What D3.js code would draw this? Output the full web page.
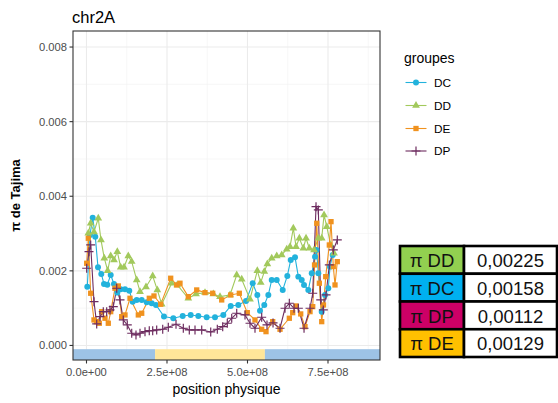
<!DOCTYPE html>
<html><head><meta charset="utf-8">
<script src="https://cdn.jsdelivr.net/npm/d3@7"></script>
<style>body{margin:0;background:#fff}svg{display:block}</style>
</head><body>
<svg id="c" width="558" height="403"></svg>
<script>
// ---- data (positions in Mb, pi values) ----
const groups = ["DC","DD","DE","DP"];
const posDC = [2.5,10.9,19.3,27.3,35.7,46.0,54.4,64.6,75.2,85.4,95.7,106.2,119.6,132.9,143.5,155.9,171.5,187.0,202.5,215.9,240.7,269.6,298.8,323.6,347.3,373.3,399.1,424.9,447.9,471.5,495.4,516.2,530.5,538.9,552.2,564.7,575.2,590.8,609.4,623.7,634.3,647.6,657.9,668.4,675.6,688.9,699.5,709.7,714.4,720.0,730.5,740.8,751.0,756.3,764.7];
const piDC = [0.001576,0.002962,0.003426,0.002917,0.002097,0.001917,0.001649,0.001630,0.001890,0.001649,0.001416,0.001507,0.001507,0.001469,0.001174,0.001220,0.001220,0.001158,0.001131,0.001086,0.000777,0.000729,0.000791,0.000818,0.000791,0.000756,0.000756,0.000818,0.001059,0.001086,0.001193,0.001668,0.001354,0.000933,0.001086,0.001354,0.001756,0.001756,0.001488,0.001863,0.002292,0.002365,0.001845,0.001756,0.001622,0.001488,0.001936,0.002381,0.002560,0.001936,0.000906,0.001354,0.001534,0.002113,0.002426];
const posDD = [5.6,13.0,23.3,36.6,45.0,55.3,65.8,75.2,85.4,95.7,106.2,116.5,129.8,140.4,155.9,166.2,184.8,205.6,219.9,233.6,264.6,282.0,316.2,340.1,368.1,393.8,414.6,445.7,466.5,482.0,507.8,530.5,541.1,552.2,561.6,575.2,590.8,606.3,621.8,632.1,642.3,650.7,661.0,673.4,681.8,692.0,706.6,720.0,730.5,737.7,746.1,758.5,768.7];
const piDD = [0.003008,0.003276,0.003043,0.003410,0.002828,0.002338,0.002005,0.002399,0.002292,0.002515,0.002097,0.002097,0.002399,0.002247,0.001756,0.001442,0.001568,0.001863,0.001488,0.001105,0.001668,0.001622,0.001265,0.001381,0.001416,0.001381,0.001308,0.001354,0.001890,0.001775,0.001239,0.002005,0.001684,0.001979,0.002185,0.002338,0.002399,0.002426,0.002579,0.002649,0.003142,0.002649,0.002874,0.002606,0.002874,0.002606,0.002560,0.002874,0.002874,0.003499,0.003185,0.002694,0.002472];
const posDE = [0.6,5.6,13.0,23.3,31.7,39.8,47.2,57.5,67.7,75.2,88.5,98.8,109.3,119.6,135.1,160.9,171.5,195.0,209.6,230.5,261.5,280.2,290.4,316.2,342.3,368.1,392.0,419.9,447.9,474.6,499.4,523.3,544.1,557.5,578.3,601.0,629.9,640.4,650.7,665.3,678.6,694.2,702.6,708.2,715.0,723.1,730.5,736.1,742.9,754.1,759.4,766.5,771.8,778.9];
const piDE = [0.002204,0.002874,0.001399,0.000684,0.000638,0.000595,0.000906,0.000729,0.000595,0.000906,0.001534,0.001595,0.000772,0.000818,0.001265,0.000818,0.000863,0.001265,0.001327,0.001105,0.001802,0.001622,0.001668,0.001308,0.001488,0.001416,0.001399,0.001220,0.001354,0.001399,0.000879,0.000684,0.000434,0.000370,0.000638,0.000434,0.000729,0.000879,0.001059,0.000845,0.000504,0.000906,0.001040,0.002158,0.003276,0.001668,0.000638,0.001086,0.001845,0.002694,0.003319,0.002113,0.001622,0.002247];
const posDP = [0.6,7.8,13.0,23.3,31.7,41.9,52.2,62.7,73.0,83.2,93.8,104.1,114.3,126.7,140.4,153.7,166.2,181.7,195.0,205.6,218.0,236.7,254.1,278.0,300.7,319.3,337.0,357.8,385.8,406.3,423.0,437.3,451.0,466.5,492.3,507.8,523.3,544.1,560.6,579.3,601.0,616.5,629.9,644.5,657.9,675.6,694.2,702.6,712.8,720.0,727.4,735.5,743.9,754.1,766.5,778.9];
const piDP = [0.002070,0.002515,0.002694,0.001174,0.000576,0.000772,0.000906,0.000906,0.000952,0.001040,0.001534,0.001220,0.000684,0.000550,0.000327,0.000282,0.000327,0.000370,0.000397,0.000397,0.000416,0.000434,0.000488,0.000568,0.000461,0.000416,0.000416,0.000416,0.000362,0.000434,0.000504,0.000595,0.000729,0.000863,0.000818,0.000595,0.000461,0.000756,0.000550,0.000603,0.000461,0.000997,0.001131,0.000997,0.000997,0.000461,0.000997,0.001399,0.003721,0.003633,0.001220,0.000952,0.001354,0.002158,0.002560,0.002828];

const yTicks = [0, 0.002, 0.004, 0.006, 0.008];
const yTickLabels = ["0.000","0.002","0.004","0.006","0.008"];
const xTicks = [0, 250, 500, 750];
const xTickLabels = ["0.0e+00","2.5e+08","5.0e+08","7.5e+08"];
const bandStart = [-Infinity, 213, 554];
const bandEnd = [213, 554, Infinity];
const tableLabels = ["π DD","π DC","π DP","π DE"];
const tableValues = ["0,00225","0,00158","0,00112","0,00129"];

// ---- styles ----
const colors = {DC:"#22B2DC", DD:"#A2C95C", DE:"#F0921F", DP:"#6E2D60"};
const bandColors = ["#9DC3E6","#FFE699","#9DC3E6"];
const tableColors = ["#92D050","#00B0F0","#CC0066","#FFC000"];
const F = "'Liberation Sans', Arial, sans-serif";

const svg = d3.select("#c");
const L = 73, R = 380, T = 31, B = 360;
const x = d3.scaleLinear().domain([-41.9, 911.5]).range([L, R]);
const y = d3.scaleLinear().domain([-0.00039, 0.00843]).range([B, T]);

// panel background grid
const g = svg.append("g");
const yMinor = [0.001,0.003,0.005,0.007];
const xMinor = [125,375,625,875];
g.selectAll(".ymin").data(yMinor).join("line").attr("x1",L).attr("x2",R)
  .attr("y1",d=>y(d)).attr("y2",d=>y(d)).attr("stroke","#F2F2F2").attr("stroke-width",0.6);
g.selectAll(".xmin").data(xMinor).join("line").attr("y1",T).attr("y2",B)
  .attr("x1",d=>x(d)).attr("x2",d=>x(d)).attr("stroke","#F2F2F2").attr("stroke-width",0.6);
g.selectAll(".ymaj").data(yTicks).join("line").attr("x1",L).attr("x2",R)
  .attr("y1",d=>y(d)).attr("y2",d=>y(d)).attr("stroke","#EBEBEB").attr("stroke-width",1.1);
g.selectAll(".xmaj").data(xTicks).join("line").attr("y1",T).attr("y2",B)
  .attr("x1",d=>x(d)).attr("x2",d=>x(d)).attr("stroke","#EBEBEB").attr("stroke-width",1.1);

// band
const [dx0, dx1] = x.domain();
svg.selectAll(".band").data(bandStart).join("rect")
  .attr("x",(d,i)=>x(Math.max(d,dx0)))
  .attr("width",(d,i)=>x(Math.min(bandEnd[i],dx1))-x(Math.max(d,dx0)))
  .attr("y",y(-0.0001)).attr("height",y(y.domain()[0])-y(-0.0001))
  .attr("fill",(d,i)=>bandColors[i]);

// series
const series = {
  DC: posDC.map((p,i)=>[p,piDC[i]]),
  DD: posDD.map((p,i)=>[p,piDD[i]]),
  DE: posDE.map((p,i)=>[p,piDE[i]]),
  DP: posDP.map((p,i)=>[p,piDP[i]])
};
const line = d3.line().x(d=>x(d[0])).y(d=>y(d[1]));
groups.forEach(k=>{
  svg.append("path").datum(series[k]).attr("d",line).attr("fill","none")
    .attr("stroke",colors[k]).attr("stroke-width",1.1);
});
const shapes = {DC:d3.symbolCircle, DD:d3.symbolTriangle, DE:d3.symbolSquare, DP:d3.symbolCross};
function drawPoint(sel, k, cx, cy){
  if(k==="DP"){
    const s=4.5;
    sel.append("path").attr("d",`M${cx-s},${cy}H${cx+s}M${cx},${cy-s}V${cy+s}`)
      .attr("stroke",colors[k]).attr("stroke-width",1.2).attr("fill","none");
  } else {
    const size = k==="DC"?28:(k==="DD"?26:28);
    sel.append("path").attr("d",d3.symbol().type(shapes[k]).size(size)())
      .attr("transform",`translate(${cx},${cy})`).attr("fill",colors[k]);
  }
}
groups.forEach(k=>{
  const gg = svg.append("g");
  series[k].forEach(d=>drawPoint(gg,k,x(d[0]),y(d[1])));
});

// panel border
svg.append("rect").attr("x",L).attr("y",T).attr("width",R-L).attr("height",B-T)
  .attr("fill","none").attr("stroke","#333333").attr("stroke-width",1.1);

// axes
svg.selectAll(".yt").data(yTicks).join("line").attr("x1",L-3.5).attr("x2",L)
  .attr("y1",d=>y(d)).attr("y2",d=>y(d)).attr("stroke","#333333").attr("stroke-width",1.1);
svg.selectAll(".ytl").data(yTicks).join("text").attr("x",L-6).attr("y",d=>y(d)+4)
  .attr("text-anchor","end").attr("font-family",F).attr("font-size",11.2).attr("fill","#4D4D4D")
  .text((d,i)=>yTickLabels[i]);
svg.selectAll(".xt").data(xTicks).join("line").attr("y1",B).attr("y2",B+3.5)
  .attr("x1",d=>x(d)).attr("x2",d=>x(d)).attr("stroke","#333333").attr("stroke-width",1.1);
svg.selectAll(".xtl").data(xTicks).join("text").attr("x",d=>x(d)).attr("y",B+16)
  .attr("text-anchor","middle").attr("font-family",F).attr("font-size",11.2).attr("fill","#4D4D4D")
  .text((d,i)=>xTickLabels[i]);

// titles
svg.append("text").attr("x",L-1).attr("y",22.5).attr("font-family",F).attr("font-size",16.5)
  .attr("fill","#000").text("chr2A");
svg.append("text").attr("x",(L+R)/2).attr("y",393.5).attr("text-anchor","middle")
  .attr("font-family",F).attr("font-size",14).attr("fill","#000").text("position physique");
svg.append("text").attr("transform",`translate(19.5,${(T+B)/2}) rotate(-90)`)
  .attr("text-anchor","middle").attr("font-family",F).attr("font-size",13).attr("font-weight","bold")
  .attr("fill","#000").text("π de Tajima");

// legend
svg.append("text").attr("x",404).attr("y",63).attr("font-family",F).attr("font-size",14)
  .attr("fill","#000").text("groupes");
const legY = [82.5,105.5,128.5,151];
groups.forEach((k,i)=>{
  const lg = svg.append("g");
  lg.append("line").attr("x1",405.5).attr("x2",426.5).attr("y1",legY[i]).attr("y2",legY[i])
    .attr("stroke",colors[k]).attr("stroke-width",1.1);
  drawPoint(lg,k,416,legY[i]);
  lg.append("text").attr("x",434).attr("y",legY[i]+4).attr("font-family",F).attr("font-size",11.8)
    .attr("fill","#000").text(k);
});

// table
const tx0 = 400, tx1 = 464, tx2 = 557, ty0 = 246, rh = 27.75;
const tg = svg.append("g");
tableLabels.forEach((lab,i)=>{
  const yy = ty0 + i*rh;
  tg.append("rect").attr("x",tx0).attr("y",yy).attr("width",tx1-tx0).attr("height",rh)
    .attr("fill",tableColors[i]).attr("stroke","#000").attr("stroke-width",2.6);
  tg.append("rect").attr("x",tx1).attr("y",yy).attr("width",tx2-tx1).attr("height",rh)
    .attr("fill","#fff").attr("stroke","#000").attr("stroke-width",2.6);
  tg.append("text").attr("x",(tx0+tx1)/2).attr("y",yy+21).attr("text-anchor","middle")
    .attr("font-family",F).attr("font-size",18.5).attr("fill","#111").text(lab);
  tg.append("text").attr("x",(tx1+tx2)/2).attr("y",yy+21).attr("text-anchor","middle")
    .attr("font-family",F).attr("font-size",18.5).attr("fill","#111").text(tableValues[i]);
});
</script>
</body></html>
